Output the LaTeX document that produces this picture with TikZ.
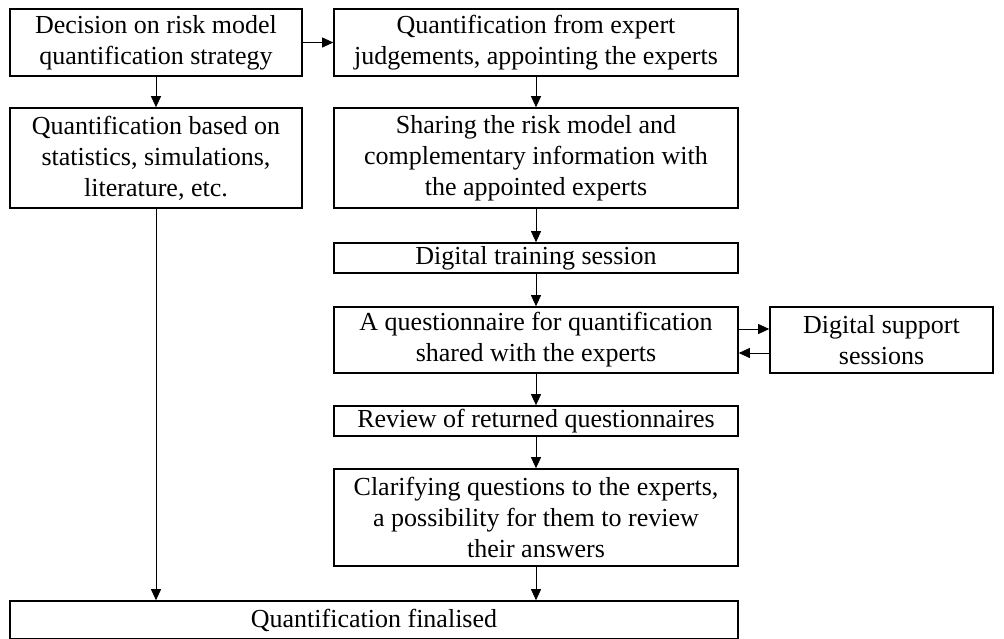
\documentclass[tikz,border=0pt]{standalone}
\usepackage{fontspec}
\setmainfont{Liberation Serif}
\usetikzlibrary{arrows.meta}
\tikzset{
	box/.style={draw, line width=1.6pt, inner sep=0pt, align=center, font=\fontsize{26}{31}\selectfont},
	arr/.style={line width=0.8pt, -{Triangle[length=11pt,width=10pt]}}
}

\begin{document}
\begin{tikzpicture}[x=1pt, y=-1pt]
		%%%%% START %%%%%
		\useasboundingbox (0, 0) rectangle (1004, 638);
		
		\node[box, minimum width=292pt, minimum height=67pt] (strategy) at (156, 42.5) {Decision on risk model\\quantification strategy};
		\node[box, minimum width=404pt, minimum height=67pt] (experts) at (536, 42.5) {Quantification from expert\\judgements, appointing the experts};
		
		\node[box, minimum width=292pt, minimum height=100pt] (statistics) at (156, 158) {Quantification based on\\statistics, simulations,\\literature, etc.};
		\node[box, minimum width=404pt, minimum height=100pt] (sharing) at (536, 158) {Sharing the risk model and\\complementary information with\\the appointed experts};
		
		\node[box, minimum width=404pt, minimum height=30pt] (training) at (536, 258) {Digital training session};
		\node[box, minimum width=404pt, minimum height=66pt] (questionnaire) at (536, 340) {A questionnaire for quantification\\shared with the experts};
		\node[box, minimum width=223pt, minimum height=66pt] (support) at (881.5, 340) {Digital support\\sessions};
		
		\node[box, minimum width=404pt, minimum height=30pt] (review) at (536, 421) {Review of returned questionnaires};
		\node[box, minimum width=404pt, minimum height=97pt] (clarify) at (536, 517.5) {Clarifying questions to the experts,\\a possibility for them to review\\their answers};
		
		\node[box, minimum width=728pt, minimum height=38pt] (final) at (374, 620) {Quantification finalised};
		
		\draw[arr] (strategy) -- (experts);
		\draw[arr] (strategy) -- (statistics);
		\draw[arr] (experts) -- (sharing);
		\draw[arr] (sharing) -- (training);
		\draw[arr] (training) -- (questionnaire);
		\draw[arr] ([yshift=11pt]questionnaire.east) -- ([yshift=11pt]support.west);
		\draw[arr] ([yshift=-13pt]support.west) -- ([yshift=-13pt]questionnaire.east);
		\draw[arr] (questionnaire) -- (review);
		\draw[arr] (review) -- (clarify);
		\draw[arr] (clarify) -- (clarify.south |- final.north);
		\draw[arr] (statistics) -- (statistics.south |- final.north);
		%%%%% END %%%%%
\end{tikzpicture}
\end{document}
